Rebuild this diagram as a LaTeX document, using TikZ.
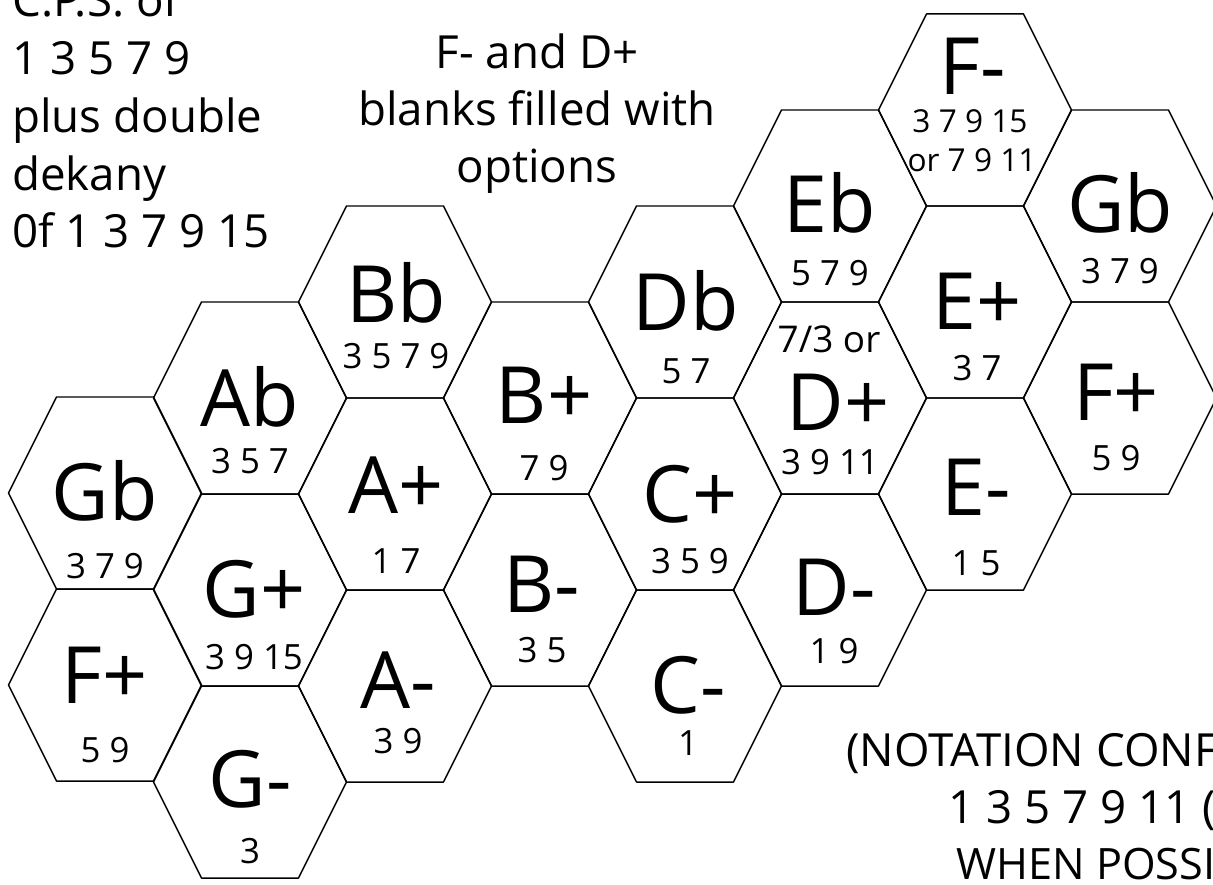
\documentclass[tikz,border=0pt]{standalone}
\usepackage{fontspec}
\setmainfont{Open Sans}
\begin{document}
\begin{tikzpicture}[x=0.02cm, y=-0.02cm,
  cell/.style={draw=black, line width=0.85pt, line join=round},
  chord/.style={anchor=base, inner sep=0pt, font=\fontsize{45}{50}\selectfont},
  nums/.style={anchor=base, inner sep=0pt, font=\fontsize{19.8}{22}\selectfont},
  note/.style={inner sep=0pt, font=\fontsize{26}{31}\selectfont}]
\useasboundingbox (0,0) rectangle (1213,885);
\foreach \cx/\cy in {105/493, 105/685, 250/398, 250/590, 250/782, 395/302, 395/494, 395/686,
                     540/398, 540/590, 685/302, 685/494, 685/686, 830/206, 830/398, 830/590,
                     975/110, 975/302, 975/494, 1120/206, 1120/398}
  \draw[cell, shift={(\cx,\cy)}] (-96.5,0) -- (-48.5,-96) -- (48.5,-96) -- (96.5,0) -- (48.5,96) -- (-48.5,96) -- cycle;
\foreach \n/\cx/\cy/\lab/\ly/\num/\ny in {gbl/105/493/Gb/27/3 7 9/85, fpl/105/685/F+/18/5 9/77,
    ab/250/398/Ab/28/3 5 7/75, gp/254/590/G+/27/3 9 15/79, gm/250/782/G-/25/3/81,
    bb/396/302/Bb/20/3 5 7 9/66, ap/396/494/A+/19/1 7/79, am/398/686/A-/22/3 9/67,
    bp/544/398/B+/25/7 9/82, bm/542/590/B-/22/3 5/72,
    db/686/302/Db/28/5 7/81, cp/690/494/C+/28/3 5 9/79, cm/688/686/C-/27/1/69,
    eb/830/206/Eb/27/5 7 9/79, dm/834/590/D-/25/1 9/73,
    ep/977/302/E+/27/3 7/78, em/976/494/E-/21/1 5/81,
    gbr/1120/206/Gb/27/3 7 9/77, fpr/1116/398/F+/22/5 9/72}{
  \node[chord] (\n) at (\cx,\cy+\ly) {\lab};
  \node[nums] (n\n) at (\cx,\cy+\ny) {\num};
}
\node[nums, font=\fontsize{21}{24}\selectfont] (dpopt) at (829,352) {7/3 or};
\node[chord] (dp) at (838,430) {D+};
\node[nums] (ndp) at (830,474) {3 9 11};
\node[chord] (fm) at (973,95) {F-};
\node[nums, font=\fontsize{18}{20}\selectfont] (nfm) at (970,133) {3 7 9 15};
\node[nums, font=\fontsize{18}{20}\selectfont] (nfmb) at (972,172) {or 7 9 11};
\foreach \t [count=\i] in {C.P.S. of, 1 3 5 7 9, plus double, dekany, 0f 1 3 7 9 15}
  \node[note, anchor=base west] (cps\i) at (12,{17+57.75*(\i-1)}) {\t};
\foreach \t [count=\i] in {F- and D+, blanks filled with, options}
  \node[note, anchor=base] (blank\i) at (537,{69+57*(\i-1)}) {\t};
\node[note, anchor=base west] (notation1) at (846,766) {(NOTATION CONF};
\node[note, anchor=base west] (notation2) at (948,823) {1 3 5 7 9 11 (};
\node[note, anchor=base west, font=\fontsize{24.6}{30}\selectfont] (notation3) at (956,879) {WHEN POSSI};
\end{tikzpicture}
\end{document}
